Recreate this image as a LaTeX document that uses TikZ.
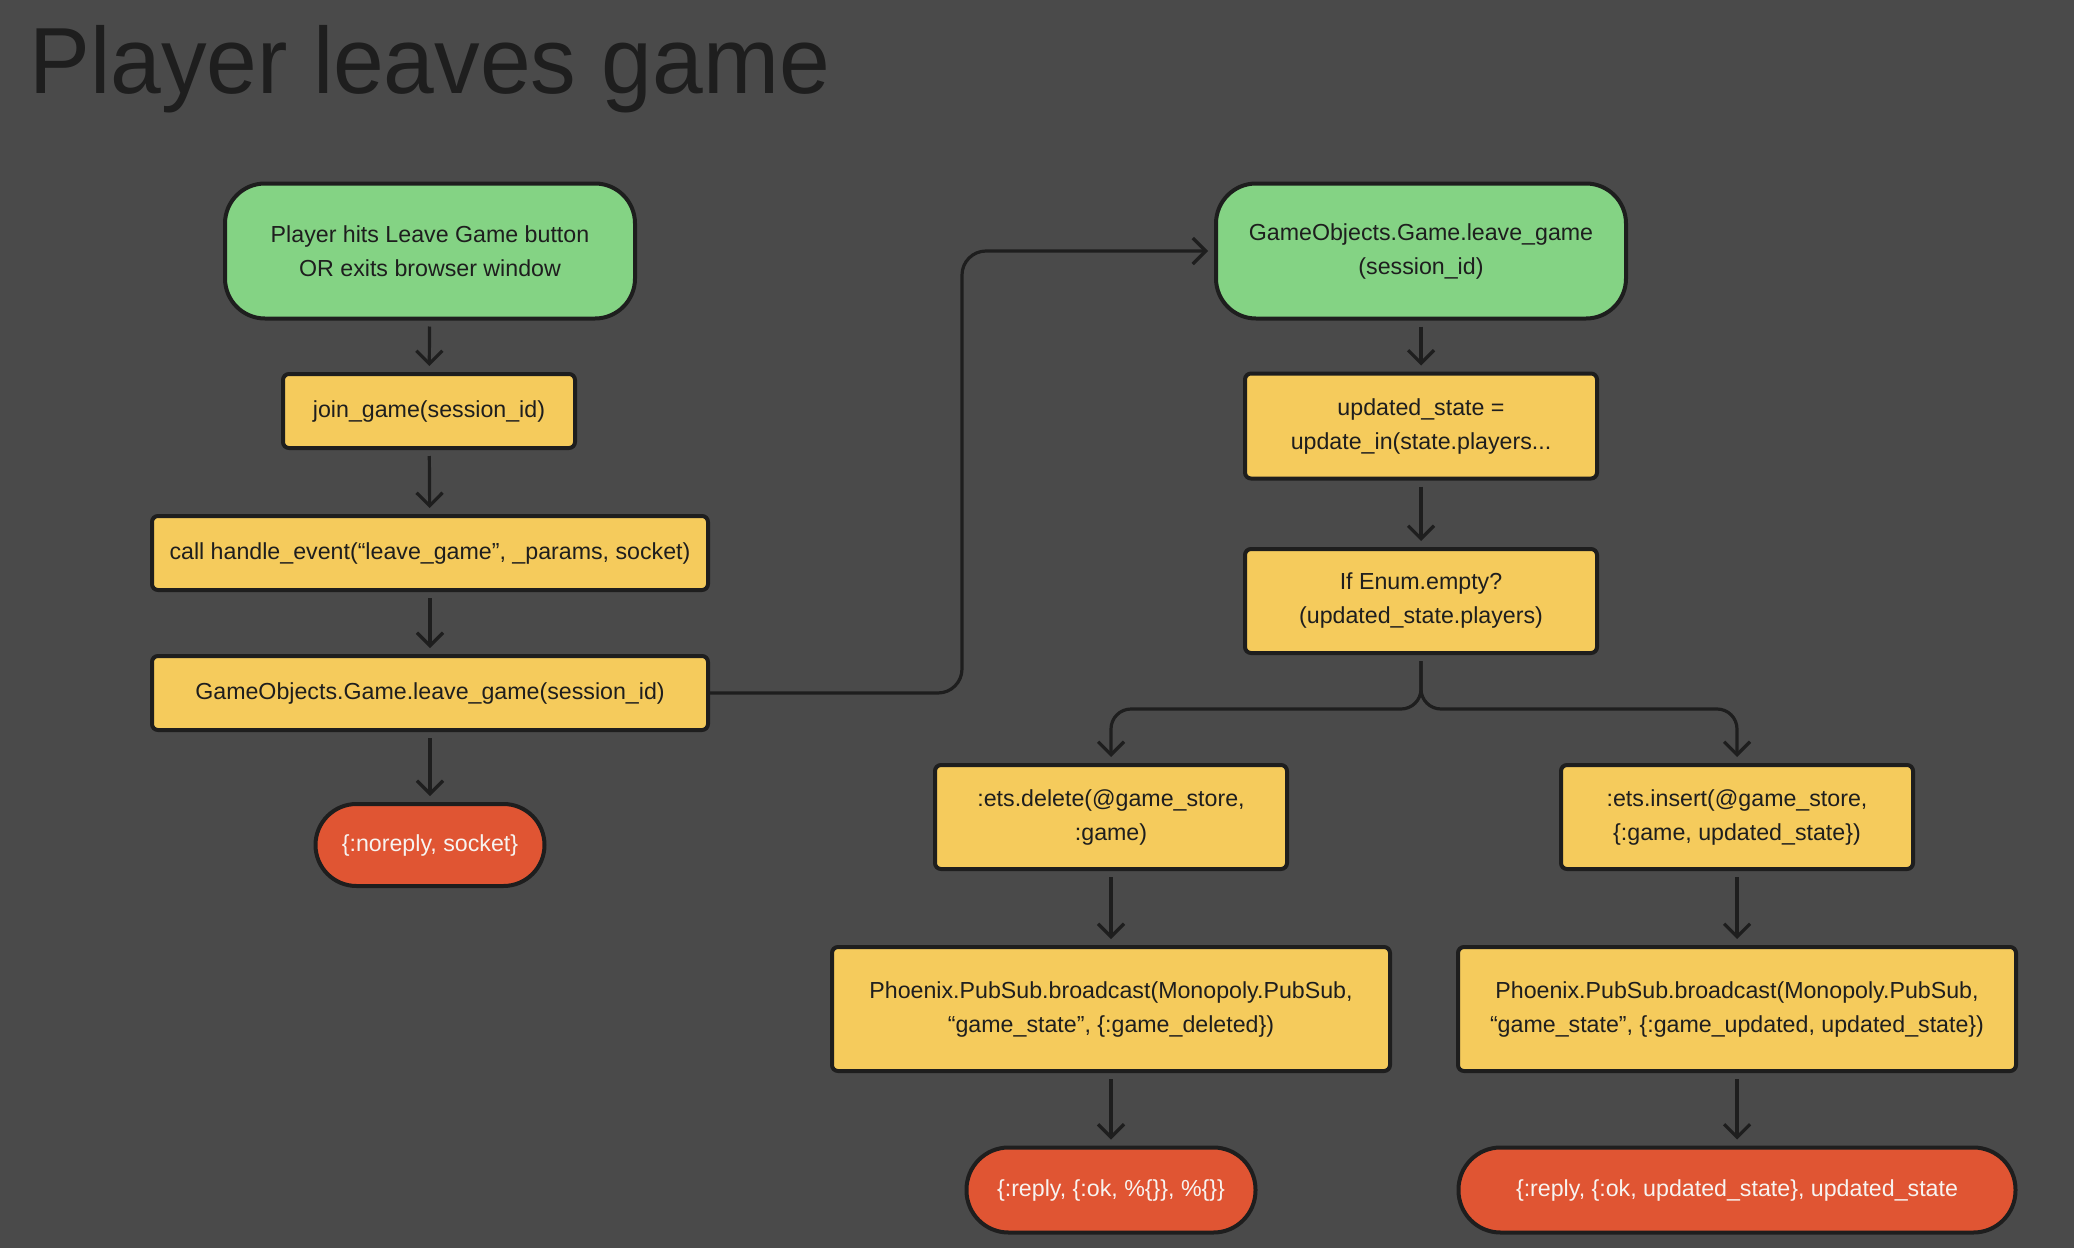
\documentclass[tikz,border=0pt]{standalone}
\usepackage{fontspec}
\setmainfont{Liberation Sans}
\usetikzlibrary{arrows.meta}
\definecolor{bg}{HTML}{4A4A4A}
\definecolor{ink}{HTML}{1E1E1E}
\definecolor{grn}{HTML}{84D384}
\definecolor{ylw}{HTML}{F5CB5C}
\definecolor{rd}{HTML}{E05533}
\definecolor{wt}{HTML}{F7F3F0}
\tikzset{
  base/.style={draw=ink, line width=2pt, inner sep=0pt, align=center,
    font=\fontsize{11.6}{17}\selectfont, text=ink},
  startbox/.style={base, fill=grn, rounded corners=20pt, minimum width=205pt, minimum height=67.5pt},
  procbox/.style={base, fill=ylw, rounded corners=3pt},
  endbox/.style={base, fill=rd, text=wt},
  arr/.style={draw=ink, line width=1.6pt, -{Straight Barb[length=6.5pt,width=13pt,line width=1.6pt]},
    shorten <=3pt, shorten >=3pt},
}
\begin{document}
\begin{tikzpicture}[x=0.5pt,y=-0.5pt]
\path[fill=bg] (0,0) rectangle (2074,1248);
\node[anchor=base west, inner sep=0pt, text=ink, font=\fontsize{47}{50}\selectfont] (title) at (29,93) {\scalebox{0.97}[1]{Player leaves game}};

\node[startbox] (g1) at (430,251) {Player hits Leave Game button\\OR exits browser window};
\node[procbox, minimum width=146pt, minimum height=37pt] (jg) at (429,411) {join\_game(session\_id)};
\node[procbox, minimum width=278pt, minimum height=37pt] (he) at (430,553) {call handle\_event(“leave\_game”, \_params, socket)};
\node[procbox, minimum width=278pt, minimum height=37pt] (gl) at (430,693) {GameObjects.Game.leave\_game(session\_id)};
\node[endbox, minimum width=114.5pt, minimum height=41pt, rounded corners=20.5pt] (nr) at (430,845) {\{:noreply, socket\}};

\node[startbox] (g2) at (1421,251) {GameObjects.Game.leave\_game\\(session\_id)};
\node[procbox, minimum width=176pt, minimum height=52.5pt] (us) at (1421,426) {updated\_state =\\update\_in(state.players...};
\node[procbox, minimum width=176pt, minimum height=52pt] (ie) at (1421,601) {If Enum.empty?\\(updated\_state.players)};
\node[procbox, minimum width=176pt, minimum height=52pt] (ed) at (1111,817) {:ets.delete(@game\_store,\\:game)};
\node[procbox, minimum width=176pt, minimum height=52pt] (ei) at (1737,817) {:ets.insert(@game\_store,\\\{:game, updated\_state\})};
\node[procbox, minimum width=279pt, minimum height=62pt] (pl) at (1111,1009) {Phoenix.PubSub.broadcast(Monopoly.PubSub,\\“game\_state”, \{:game\_deleted\})};
\node[procbox, minimum width=279pt, minimum height=62pt] (pr) at (1737,1009) {Phoenix.PubSub.broadcast(Monopoly.PubSub,\\“game\_state”, \{:game\_updated, updated\_state\})};
\node[endbox, minimum width=144.5pt, minimum height=42.5pt, rounded corners=21pt] (rl) at (1111,1190) {\{:reply, \{:ok, \%\{\}\}, \%\{\}\}};
\node[endbox, minimum width=278.5pt, minimum height=42.5pt, rounded corners=21pt] (rr) at (1737,1190) {\{:reply, \{:ok, updated\_state\}, updated\_state};

\draw[arr] (g1) -- (jg);
\draw[arr] (jg) -- (he);
\draw[arr] (he) -- (gl);
\draw[arr] (gl) -- (nr);
\coordinate (k1) at (962,693);
\draw[arr, rounded corners=12pt, shorten <=0pt] (gl.east) -- (k1) |- (g2.west);
\draw[arr] (g2) -- (us);
\draw[arr] (us) -- (ie);
\coordinate (k2) at (1421,709);
\draw[arr, rounded corners=10pt] (ie.south) -- (k2) -| (ed.north);
\draw[arr, rounded corners=10pt] (ie.south) -- (k2) -| (ei.north);
\draw[arr] (ed) -- (pl);
\draw[arr] (ei) -- (pr);
\draw[arr] (pl) -- (rl);
\draw[arr] (pr) -- (rr);
\end{tikzpicture}
\end{document}
